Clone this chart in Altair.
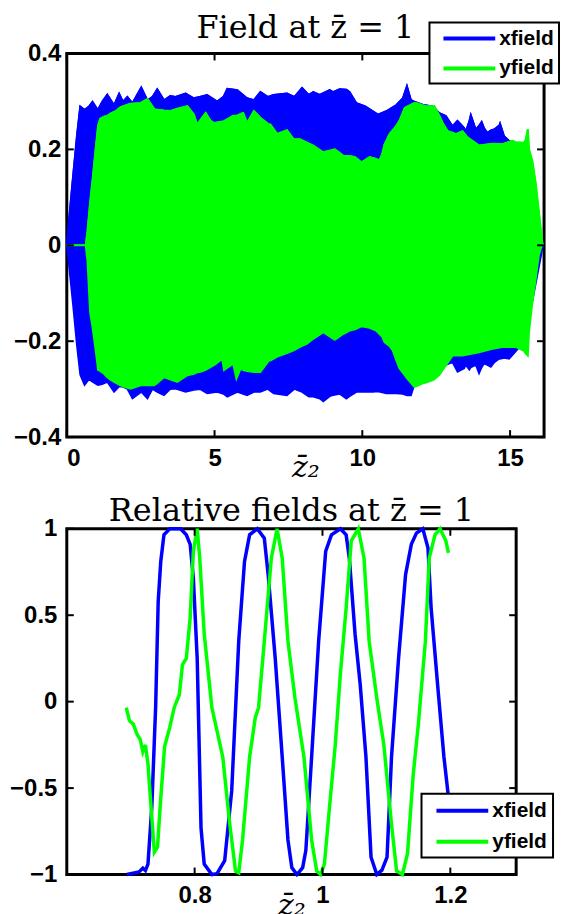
import altair as alt
import pandas as pd

# ---------------- top panel: field envelopes ----------------
blue_x = [0.0, 0.05, 0.2, 0.34, 0.45, 0.6, 0.75, 0.87, 1.05, 1.2, 1.37, 1.6, 1.77, 1.9, 2.05, 2.22,
          2.52, 2.73, 2.9, 3.06, 3.29, 3.5, 3.68, 4.02, 4.3, 4.5, 4.75, 5.09, 5.3, 5.43, 5.77, 6.1,
          6.33, 6.55, 6.8, 7.0, 7.45, 7.7, 7.96, 8.19, 8.34, 8.56, 8.68, 8.9, 9.01, 9.23, 9.46, 9.57,
          9.8, 10.1, 10.36, 10.53, 10.81, 11.15, 11.37, 11.51, 11.65, 11.76, 12.05, 12.38, 12.61,
          12.83, 13.05, 13.22, 13.45, 13.5, 13.62, 13.67, 13.84, 13.95, 14.04, 14.12, 14.23, 14.35,
          14.46, 14.63, 14.66, 14.8, 14.97, 15.5, 16.12]
blue_up = [0.0, 0.04, 0.14, 0.23, 0.29, 0.283, 0.29, 0.30, 0.283, 0.30, 0.315, 0.293, 0.317, 0.30,
           0.31, 0.297, 0.33, 0.303, 0.31, 0.326, 0.303, 0.312, 0.31, 0.317, 0.307, 0.31, 0.314, 0.30,
           0.31, 0.327, 0.324, 0.307, 0.303, 0.32, 0.31, 0.314, 0.317, 0.31, 0.329, 0.314, 0.32, 0.314,
           0.318, 0.324, 0.32, 0.326, 0.325, 0.32, 0.297, 0.29, 0.28, 0.273, 0.28, 0.293, 0.307, 0.333,
           0.303, 0.30, 0.293, 0.29, 0.276, 0.27, 0.249, 0.26, 0.245, 0.238, 0.26, 0.273, 0.242, 0.25,
           0.258, 0.245, 0.235, 0.24, 0.242, 0.25, 0.255, 0.228, 0.218, 0.20, 0.0]
blue_low = [0.0, -0.03, -0.12, -0.21, -0.27, -0.292, -0.28, -0.285, -0.292, -0.29, -0.285, -0.306,
            -0.295, -0.295, -0.30, -0.32, -0.306, -0.32, -0.30, -0.306, -0.313, -0.30, -0.299, -0.306,
            -0.302, -0.30, -0.309, -0.306, -0.31, -0.316, -0.306, -0.313, -0.306, -0.306, -0.30, -0.309,
            -0.313, -0.30, -0.306, -0.316, -0.316, -0.32, -0.326, -0.315, -0.313, -0.31, -0.32, -0.315,
            -0.306, -0.306, -0.306, -0.305, -0.309, -0.309, -0.31, -0.313, -0.313, -0.292, -0.285,
            -0.278, -0.26, -0.25, -0.244, -0.264, -0.257, -0.25, -0.26, -0.255, -0.25, -0.268, -0.255,
            -0.247, -0.25, -0.254, -0.245, -0.237, -0.237, -0.235, -0.237, -0.20, 0.0]

green_x = [0.0, 0.64, 0.7, 0.79, 0.87, 0.98, 1.06, 1.13, 1.26, 1.37, 1.49, 1.66, 1.82, 2.05, 2.16,
           2.5, 2.73, 2.95, 3.0, 3.29, 3.51, 3.74, 4.08, 4.3, 4.41, 4.53, 4.7, 4.86, 4.98, 5.26, 5.32,
           5.63, 5.74, 5.88, 5.97, 6.1, 6.33, 6.55, 6.84, 6.89, 7.12, 7.45, 7.68, 7.89, 8.13, 8.34,
           8.68, 9.07, 9.35, 9.57, 9.75, 9.97, 10.25, 10.47, 10.58, 10.67, 10.75, 10.92, 11.03, 11.15,
           11.26, 11.43, 11.48, 11.76, 11.82, 12.04, 12.16, 12.38, 12.44, 12.61, 12.72, 12.89, 13.05,
           13.17, 13.39, 13.56, 13.95, 14.4, 14.74, 15.08, 15.19, 15.47, 15.53, 15.6, 15.64, 15.75,
           15.86, 15.98, 16.09, 16.12]
green_up = [0.0, 0.0, 0.03, 0.09, 0.136, 0.204, 0.25, 0.264, 0.268, 0.27, 0.275, 0.28, 0.288, 0.293,
            0.295, 0.297, 0.305, 0.285, 0.283, 0.281, 0.28, 0.285, 0.29, 0.273, 0.252, 0.262, 0.276,
            0.26, 0.255, 0.258, 0.259, 0.27, 0.27, 0.274, 0.276, 0.255, 0.28, 0.266, 0.252, 0.252, 0.232,
            0.24, 0.221, 0.221, 0.214, 0.208, 0.194, 0.20, 0.187, 0.186, 0.184, 0.173, 0.184, 0.18,
            0.177, 0.19, 0.21, 0.232, 0.24, 0.249, 0.26, 0.286, 0.288, 0.297, 0.297, 0.292, 0.29, 0.29,
            0.29, 0.27, 0.255, 0.238, 0.235, 0.232, 0.238, 0.225, 0.208, 0.212, 0.211, 0.218, 0.215,
            0.214, 0.22, 0.242, 0.20, 0.177, 0.132, 0.067, 0.005, 0.0]
green_low = [0.0, 0.0, -0.032, -0.14, -0.17, -0.22, -0.26, -0.262, -0.268, -0.275, -0.281, -0.287,
             -0.292, -0.297, -0.299, -0.292, -0.292, -0.292, -0.29, -0.275, -0.28, -0.285, -0.271,
             -0.268, -0.265, -0.264, -0.26, -0.254, -0.25, -0.237, -0.26, -0.247, -0.278, -0.257, -0.26,
             -0.262, -0.264, -0.264, -0.24, -0.24, -0.232, -0.225, -0.219, -0.212, -0.205, -0.195,
             -0.181, -0.197, -0.185, -0.178, -0.175, -0.169, -0.172, -0.178, -0.185, -0.19, -0.202,
             -0.21, -0.219, -0.24, -0.257, -0.27, -0.275, -0.295, -0.294, -0.288, -0.286, -0.281,
             -0.279, -0.27, -0.26, -0.245, -0.23, -0.23, -0.23, -0.228, -0.223, -0.216, -0.212, -0.212,
             -0.212, -0.22, -0.226, -0.23, -0.18, -0.121, -0.073, -0.018, 0.003, 0.0]

top_xticks = [0, 5, 10, 15]
top_yticks = [-0.4, -0.2, 0, 0.2, 0.4]
top_title = ["Field at z̄ = 1"]

# ---------------- bottom panel: relative fields ----------------
xfield_x = [0.694, 0.713, 0.719, 0.723, 0.727, 0.733, 0.739, 0.743, 0.747, 0.752, 0.761, 0.778,
            0.787, 0.793, 0.798, 0.804, 0.81, 0.815, 0.827, 0.835, 0.847, 0.858, 0.869, 0.878, 0.886,
            0.898, 0.909, 0.915, 0.926, 0.937, 0.946, 0.952, 0.96, 0.969, 0.974, 0.983, 0.994, 1.005,
            1.014, 1.028, 1.037, 1.042, 1.051, 1.059, 1.068, 1.076, 1.085, 1.093, 1.101, 1.108, 1.119,
            1.13, 1.139, 1.147, 1.157, 1.165, 1.17, 1.181, 1.19, 1.197]
xfield_y = [-1.0, -0.985, -0.963, -0.977, -0.94, -0.61, -0.03, 0.58, 0.81, 0.965, 1.0, 1.0, 0.965,
            0.91, 0.715, 0.25, -0.73, -0.94, -1.0, -0.995, -0.92, -0.515, 0.35, 0.81, 0.965, 1.0, 0.946,
            0.735, 0.254, -0.32, -0.80, -0.96, -1.0, -0.96, -0.86, -0.32, 0.35, 0.87, 0.965, 1.0, 0.965,
            0.83, 0.39, 0.1, -0.32, -0.9, -1.0, -0.975, -0.9, -0.32, 0.25, 0.735, 0.91, 0.975, 1.0, 0.89,
            0.54, 0.06, -0.32, -0.55]
yfield_x = [0.693, 0.698, 0.704, 0.71, 0.715, 0.719, 0.723, 0.727, 0.733, 0.737, 0.742, 0.746, 0.753,
            0.761, 0.768, 0.776, 0.781, 0.787, 0.793, 0.798, 0.804, 0.808, 0.815, 0.827, 0.844, 0.855,
            0.864, 0.869, 0.875, 0.886, 0.895, 0.9, 0.909, 0.92, 0.929, 0.937, 0.946, 0.957, 0.971,
            0.983, 0.991, 0.997, 1.003, 1.011, 1.02, 1.028, 1.037, 1.045, 1.056, 1.065, 1.073, 1.085,
            1.096, 1.108, 1.116, 1.125, 1.133, 1.142, 1.15, 1.161, 1.167, 1.176, 1.184, 1.193, 1.197]
yfield_y = [-0.035, -0.11, -0.13, -0.19, -0.22, -0.29, -0.25, -0.36, -0.67, -0.87, -0.84, -0.61,
            -0.26, -0.15, -0.035, 0.04, 0.215, 0.25, 0.485, 0.87, 1.0, 0.83, 0.39, -0.035, -0.32, -0.71,
            -0.98, -0.99, -0.80, -0.32, -0.09, -0.035, 0.35, 0.83, 1.0, 0.83, 0.35, 0.02, -0.32, -0.8,
            -0.98, -1.0, -0.94, -0.61, -0.25, 0.16, 0.54, 0.93, 1.0, 0.83, 0.35, 0.02, -0.25, -0.71,
            -0.98, -1.0, -0.88, -0.42, -0.13, 0.35, 0.83, 0.965, 1.0, 0.93, 0.86]

bot_xticks = [0.8, 1.0, 1.2]
bot_yticks = [-1, -0.5, 0, 0.5, 1]
bottom_title = ["Relative fields at z̄ = 1"]

series = ["xfield", "yfield"]
colors = ["#0000ff", "#00ff00"]

# ---------------- frames ----------------
blue_df = pd.DataFrame({"z": blue_x, "up": blue_up, "low": blue_low, "series": "xfield"})
green_df = pd.DataFrame({"z": green_x, "up": green_up, "low": green_low, "series": "yfield"})
rel_df = pd.concat([
    pd.DataFrame({"z": xfield_x, "v": xfield_y, "series": "xfield"}),
    pd.DataFrame({"z": yfield_x, "v": yfield_y, "series": "yfield"}),
])

LABEL_FONT = "Liberation Sans"
TITLE_FONT = "DejaVu Serif"
LFS = 24
LEGFS = 21
TFS = 32

TW, TH = 479, 385
BW, BH = 451, 347


def legend(x, y, rowpad, pad):
    return alt.Legend(
        title=None, orient="none", legendX=x, legendY=y,
        symbolType="M-3,0H3", symbolSize=300, symbolStrokeWidth=4,
        symbolOffset=24, labelOffset=19,
        labelFont=LABEL_FONT, labelFontSize=LEGFS, labelFontWeight="bold", labelColor="black",
        fillColor="white", strokeColor="black", padding=pad, rowPadding=rowpad,
    )


color_scale = alt.Scale(domain=series, range=colors)


def tick_layers(xt, yt, w, h, xdom, ydom):
    xs = alt.Scale(domain=xdom, nice=False, zero=False)
    ys = alt.Scale(domain=ydom, nice=False, zero=False)
    xdf = pd.DataFrame({"t": xt})
    ydf = pd.DataFrame({"t": yt})
    base_x = alt.Chart(xdf).mark_rule(color="black", strokeWidth=2)
    base_y = alt.Chart(ydf).mark_rule(color="black", strokeWidth=2)
    return [
        base_x.encode(x=alt.X("t:Q", scale=xs), y=alt.value(h), y2=alt.value(h - 7)),
        base_x.encode(x=alt.X("t:Q", scale=xs), y=alt.value(0), y2=alt.value(7)),
        base_y.encode(y=alt.Y("t:Q", scale=ys), x=alt.value(0), x2=alt.value(7)),
        base_y.encode(y=alt.Y("t:Q", scale=ys), x=alt.value(w), x2=alt.value(w - 7)),
    ]


def title_layer(text, w, ydist):
    return alt.Chart(pd.DataFrame({"title": text})).mark_text(
        font=TITLE_FONT, fontSize=TFS, baseline="alphabetic", align="center", color="black"
    ).encode(text="title:N", x=alt.value(w / 2), y=alt.value(-ydist))


TXDOM = [0, 16.15]
TYDOM = [-0.4, 0.4]
tx = alt.X("z:Q", scale=alt.Scale(domain=TXDOM, nice=False),
           axis=alt.Axis(values=top_xticks, title="z̄₂", format="d", grid=False, ticks=False,
                         domain=False, labelPadding=9, titleY=40, titleBaseline="alphabetic"))
ty_axis = alt.Axis(values=top_yticks, title=None, format="~g", grid=False, ticks=False,
                   domain=False, labelPadding=6)

blue_area = alt.Chart(blue_df).mark_area(color="#0000ff", stroke="#0000ff", strokeWidth=1.5).encode(
    x=tx, y=alt.Y("up:Q", scale=alt.Scale(domain=TYDOM, nice=False), axis=ty_axis), y2="low:Q")
blue_line = alt.Chart(blue_df).mark_line(strokeWidth=1.5).encode(
    x="z:Q", y="up:Q",
    color=alt.Color("series:N", scale=color_scale, legend=legend(364, -31, 9, 5)))
green_area = alt.Chart(green_df).mark_area(color="#00ff00", stroke="#00ff00", strokeWidth=2).encode(
    x="z:Q", y="up:Q", y2="low:Q")
green_line = alt.Chart(green_df).mark_line(strokeWidth=1.5).encode(
    x="z:Q", y="up:Q", color=alt.Color("series:N", scale=color_scale))

top = alt.layer(blue_area, blue_line, green_area, green_line,
                *tick_layers(top_xticks, top_yticks, TW, TH, TXDOM, TYDOM),
                title_layer(top_title, TW, 16)).properties(width=TW, height=TH)

BXDOM = [0.6, 1.303]
BYDOM = [-1, 1]
bottom_lines = alt.Chart(rel_df).mark_line(strokeWidth=3.5).encode(
    x=alt.X("z:Q", scale=alt.Scale(domain=BXDOM, nice=False, zero=False),
            axis=alt.Axis(values=bot_xticks, title="z̄₂", format="~g", grid=False, ticks=False,
                          domain=False, labelPadding=9, titleY=40, titleBaseline="alphabetic")),
    y=alt.Y("v:Q", scale=alt.Scale(domain=BYDOM, nice=False),
            axis=alt.Axis(values=bot_yticks, title=None, format="~g", grid=False, ticks=False,
                          domain=False, labelPadding=10)),
    color=alt.Color("series:N", scale=color_scale, legend=legend(356, 266, 10, 6)),
    order=alt.Order("z:Q"),
)

bottom = alt.layer(bottom_lines, *tick_layers(bot_xticks, bot_yticks, BW, BH, BXDOM, BYDOM),
                   title_layer(bottom_title, BW, 8)).properties(width=BW, height=BH)

chart = alt.concat(top, bottom, columns=1, spacing=8, align="none").resolve_scale(
    color="independent").properties(
    padding={"left": 0, "top": 0, "right": 0, "bottom": 0}
).configure_view(stroke="black", strokeWidth=3).configure_axis(
    labelFont=LABEL_FONT, labelFontSize=LFS, labelFontWeight="bold", labelColor="black",
    titleFont=TITLE_FONT, titleFontSize=30, titleFontWeight="normal", titleFontStyle="italic",
    titleColor="black",
).configure_legend(strokeWidth=2)

chart.save("out.html", embed_options={"renderer": "svg", "actions": False})
